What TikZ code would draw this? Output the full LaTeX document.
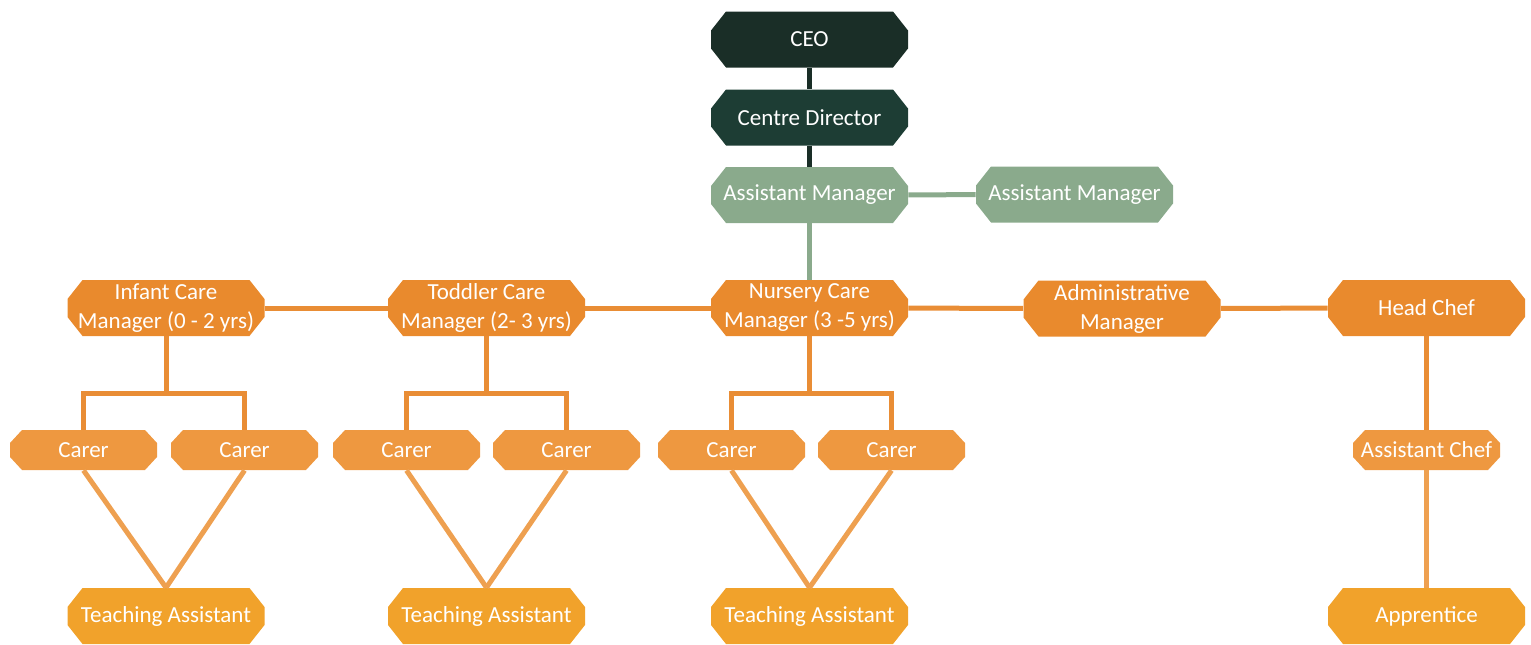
\documentclass[tikz,border=0pt]{standalone}
\usepackage{fontspec}
\setmainfont{Carlito}
\usepackage{tikz}
\definecolor{ceogreen}{HTML}{1A2E27}
\definecolor{dirgreen}{HTML}{1D3D34}
\definecolor{sagegreen}{HTML}{8AAA8C}
\definecolor{mgrorange}{HTML}{E98A2D}
\definecolor{carerorange}{HTML}{EE9840}
\definecolor{taorange}{HTML}{F1A22B}
\definecolor{linkorange}{HTML}{E98D35}
\definecolor{lightlink}{HTML}{EEA050}

\begin{document}
\begin{tikzpicture}[x=0.5pt,y=-0.5pt,
  every node/.style={font=\fontsize{11.5}{14.5}\selectfont,text=white,align=center,inner sep=0pt},
  octo/.style n args={3}{rectangle,path picture={
    \fill[#1] ([xshift=#2]path picture bounding box.north west)
      -- ([xshift=-#2]path picture bounding box.north east)
      -- ([yshift=-#3]path picture bounding box.north east)
      -- ([yshift=#3]path picture bounding box.south east)
      -- ([xshift=-#2]path picture bounding box.south east)
      -- ([xshift=#2]path picture bounding box.south west)
      -- ([yshift=#3]path picture bounding box.south west)
      -- ([yshift=-#3]path picture bounding box.north west) -- cycle;}},
  post/.style={octo={#1}{7.5pt}{9.5pt},minimum width=98.5pt,minimum height=28pt},
  smallpost/.style={octo={#1}{6pt}{6.5pt},minimum width=73.5pt,minimum height=20pt},
  link/.style={line width=2.5pt,draw=#1}]
\useasboundingbox (0,0) rectangle (1531,644);
% top of the chart
\node[post=ceogreen] (ceo) at (809.5,39.5) {CEO};
\node[post=dirgreen] (dir) at (809.5,117.5) {Centre Director};
\node[post=sagegreen] (am) at (809.5,195) {Assistant Manager};
\node[post=sagegreen] (amb) at (1074.5,194.5) {Assistant Manager};
% managers
\node[post=mgrorange] (infant) at (166,308) {Infant Care\\Manager (0 - 2 yrs)};
\node[post=mgrorange] (toddler) at (486.5,308) {Toddler Care\\Manager (2- 3 yrs)};
\node[post=mgrorange] (nursery) at (809.5,308) {Nursery Care\\Manager (3 -5 yrs)};
\node[post=mgrorange] (admin) at (1122,308.5) {Administrative\\Manager};
\node[post=mgrorange] (chef) at (1426.5,308) {Head Chef};
% carers
\node[smallpost=carerorange] (c1) at (83.5,450) {Carer};
\node[smallpost=carerorange] (c2) at (244.5,450) {Carer};
\node[smallpost=carerorange] (c3) at (406.5,450) {Carer};
\node[smallpost=carerorange] (c4) at (566.5,450) {Carer};
\node[smallpost=carerorange] (c5) at (731.5,450) {Carer};
\node[smallpost=carerorange] (c6) at (891.5,450) {Carer};
\node[smallpost=carerorange] (achef) at (1426.5,450) {Assistant Chef};
% bottom row
\node[post=taorange] (ta1) at (166,616) {Teaching Assistant};
\node[post=taorange] (ta2) at (486.5,616) {Teaching Assistant};
\node[post=taorange] (ta3) at (809.5,616) {Teaching Assistant};
\node[post=taorange] (appr) at (1426.5,616) {Apprentice};
% splits under the managers
\coordinate (s1) at (166,393);
\coordinate (s2) at (486.5,393);
\coordinate (s3) at (809.5,393);
% lines
\draw[link=ceogreen] (ceo) -- (dir);
\draw[link=ceogreen] (dir) -- (am);
\draw[link=sagegreen] (am) -- (amb);
\draw[link=sagegreen] (am) -- (nursery);
\draw[link=linkorange] (infant) -- (toddler);
\draw[link=linkorange] (toddler) -- (nursery);
\draw[link=linkorange] (nursery) -- (admin);
\draw[link=linkorange] (admin) -- (chef);
\draw[link=linkorange] (infant) -- (s1);
\draw[link=linkorange] (c1.north) |- (s1) -| (c2.north);
\draw[link=linkorange] (toddler) -- (s2);
\draw[link=linkorange] (c3.north) |- (s2) -| (c4.north);
\draw[link=linkorange] (nursery) -- (s3);
\draw[link=linkorange] (c5.north) |- (s3) -| (c6.north);
\draw[link=linkorange] (chef) -- (achef);
\draw[link=lightlink] (achef) -- (appr);
\draw[link=lightlink] (c1.south) -- (ta1.north);
\draw[link=lightlink] (c2.south) -- (ta1.north);
\draw[link=lightlink] (c3.south) -- (ta2.north);
\draw[link=lightlink] (c4.south) -- (ta2.north);
\draw[link=lightlink] (c5.south) -- (ta3.north);
\draw[link=lightlink] (c6.south) -- (ta3.north);
\end{tikzpicture}
\end{document}
